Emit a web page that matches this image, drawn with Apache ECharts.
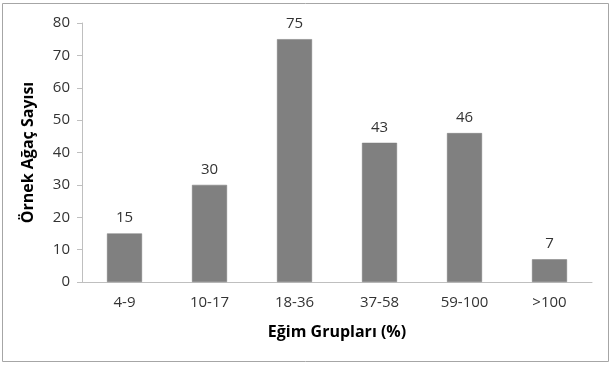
<!DOCTYPE html>
<html><head><meta charset="utf-8">
<script src="https://cdn.jsdelivr.net/npm/echarts@6/dist/echarts.min.js"></script>
<style>html,body{margin:0;padding:0;background:#fff}#c{width:614px;height:365px}</style>
</head><body><div id="c"></div>
<script>
const categories = ['4-9','10-17','18-36','37-58','59-100','>100'];
const values = [15,30,75,43,46,7];
const yTicks = [0,10,20,30,40,50,60,70,80];
const chart = echarts.init(document.getElementById('c'));
const font = '"Open Sans", sans-serif';
chart.setOption({
  animation:false,
  graphic:[{type:'rect',shape:{x:2.5,y:3.5,width:606,height:358},style:{fill:'none',stroke:'#a6a6a6',lineWidth:1}}],
  grid:{left:82,right:22,top:23,bottom:83},
  xAxis:{type:'category',data:categories,
    name:'Eğim Grupları (%)',nameLocation:'middle',nameGap:42,
    nameTextStyle:{fontFamily:font,fontSize:16,fontWeight:'bold',color:'#000'},
    axisLine:{lineStyle:{color:'#bfbfbf',width:1}},axisTick:{show:false},
    axisLabel:{fontFamily:font,fontSize:15,color:'#333',margin:13}},
  yAxis:{type:'value',min:0,max:80,interval:10,
    name:'Örnek Ağaç Sayısı',nameLocation:'middle',nameGap:46,
    nameTextStyle:{fontFamily:font,fontSize:16,fontWeight:'bold',color:'#000'},
    axisLine:{show:true,lineStyle:{color:'#bfbfbf'}},axisTick:{show:true,length:5,lineStyle:{color:'#bfbfbf'}},
    splitLine:{show:false},
    axisLabel:{fontFamily:font,fontSize:15,color:'#333',margin:12,
      formatter:v=>yTicks.includes(v)?String(v):''}},
  series:[{type:'bar',data:values,barWidth:35,
    itemStyle:{color:'#808080',borderColor:'#7a7a7a',borderWidth:0.5},
    label:{show:true,position:'top',distance:8,fontFamily:font,fontSize:15,color:'#333'}}]
});
</script></body></html>
